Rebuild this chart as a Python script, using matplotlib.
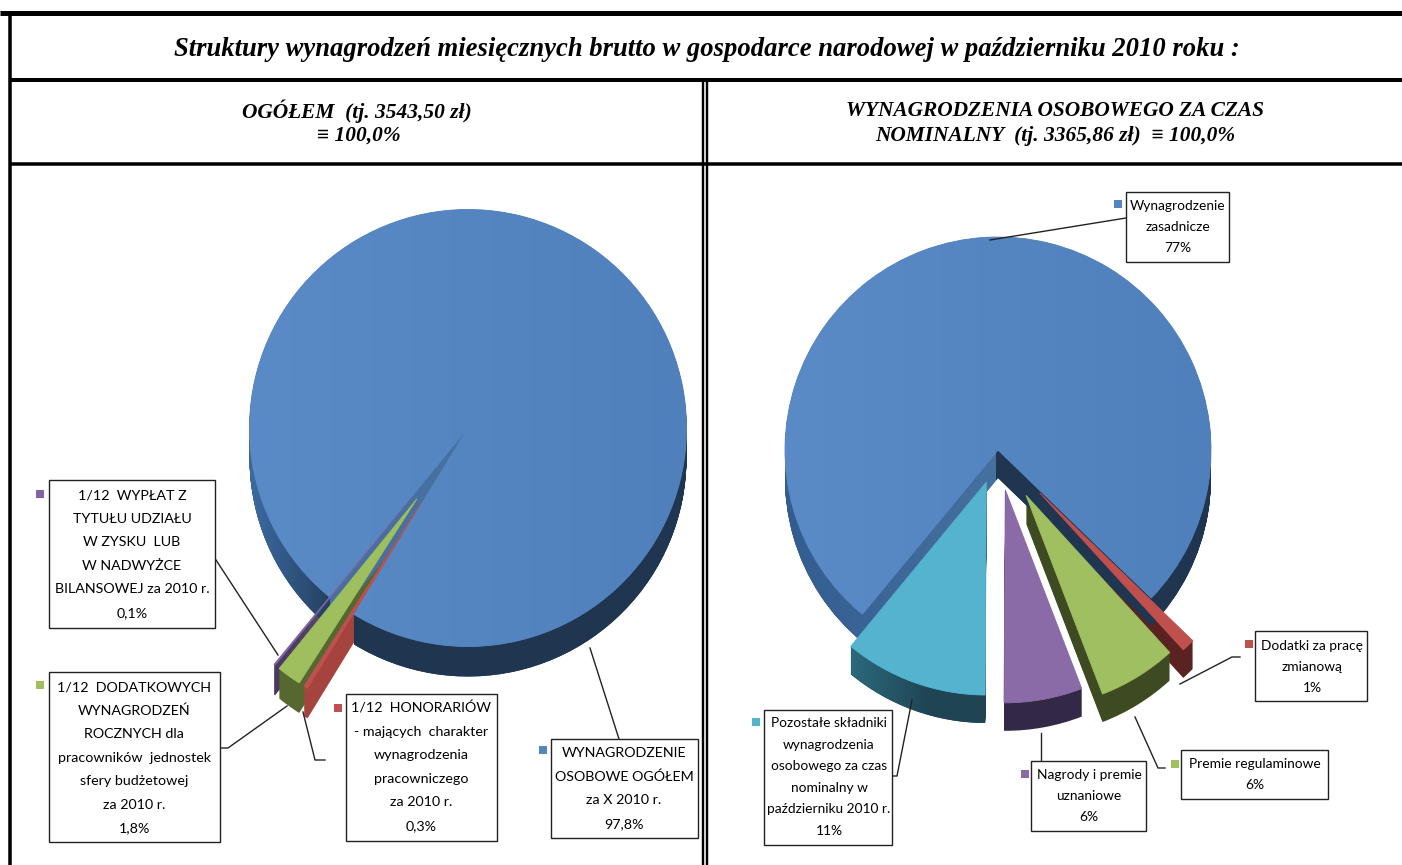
import matplotlib
matplotlib.use('Agg')
import matplotlib.pyplot as plt
import numpy as np
from matplotlib.patches import PathPatch, Rectangle
from matplotlib.path import Path
from matplotlib.colors import to_rgb

W, H = 1402, 865

# left pie data
left_names = ["WYNAGRODZENIE\nOSOBOWE OGÓŁEM\nza X 2010 r.",
              "1/12  WYPŁAT Z\nTYTUŁU UDZIAŁU\nW ZYSKU  LUB\nW NADWYŻCE\nBILANSOWEJ za 2010 r.",
              "1/12  DODATKOWYCH\nWYNAGRODZEŃ\nROCZNYCH dla\npracowników  jednostek\nsfery budżetowej\nza 2010 r.",
              "1/12  HONORARIÓW\n- mających  charakter\nwynagrodzenia\npracowniczego\nza 2010 r."]
left_values = [97.8, 0.1, 1.8, 0.3]
left_pct = ["97,8%", "0,1%", "1,8%", "0,3%"]

# right pie data
right_names = ["Wynagrodzenie\nzasadnicze",
               "Pozostałe składniki\nwynagrodzenia\nosobowego za czas\nnominalny w\npaździerniku 2010 r.",
               "Nagrody i premie\nuznaniowe",
               "Premie regulaminowe",
               "Dodatki za pracę\nzmianową"]
right_values = [77, 11, 6, 6, 1]
right_pct = ["77%", "11%", "6%", "6%", "1%"]

left_top = ['#5585c1', '#8064a2', '#9fbf5f', '#c0504d']
left_side = ['#203650', '#4b3a60', '#56682f', '#a5443f']
right_top = ['#5585c1', '#54b3cf', '#8a6ba8', '#a0bf60', '#c0504d']
right_side = ['#203650', '#1f4453', '#332845', '#3e4a22', '#5a2220']

plt.rcParams['font.family'] = ['Lato', 'DejaVu Sans']
fig = plt.figure(figsize=(W / 100, H / 100), dpi=100, facecolor='white')
ax = fig.add_axes([0, 0, 1, 1])


def Y(y):
    # picture rows count from the top, the axes from the bottom
    return H - y


def ramp(c0, c1, x0, x1):
    # colour per screen pixel, left to right, over the whole picture
    t = np.clip((np.arange(W) - x0) / (x1 - x0), 0, 1)[None, :, None]
    a, b = np.array(to_rgb(c0)), np.array(to_rgb(c1))
    return np.repeat(a + (b - a) * t, H, axis=0)


def paint(paths, img, zorder):
    im = ax.imshow(img, extent=(0, W, 0, H), origin='upper', aspect='auto', zorder=zorder)
    im.set_clip_path(PathPatch(Path.make_compound_path(*paths), transform=ax.transData))


def draw_pie(values, tops, sides, cx, cy, radius, depth, explode, start, walls=None, top_img=None):
    # pie takes explode in data units, here they are pixels
    explode = [e * radius for e in explode]
    wall_paths = {i: [] for i in (walls or {})}
    for k in range(depth, 0, -1):
        wedges, _ = ax.pie(values, colors=sides, explode=explode, radius=radius,
                           center=(cx, Y(cy) - k), startangle=start,
                           wedgeprops=dict(linewidth=0.6, edgecolor='none'))
        for i in wall_paths:
            wall_paths[i].append(wedges[i].get_path())
    for i, img in (walls or {}).items():
        paint(wall_paths[i], img, 1)
    wedges, _ = ax.pie(values, colors=tops, explode=explode, radius=radius, center=(cx, Y(cy)),
                       startangle=start, wedgeprops=dict(linewidth=0.6))
    for w, c in zip(wedges, tops):
        w.set_edgecolor(c)
        w.set_zorder(2)
    if top_img is not None:
        paint([wedges[0].get_path()], top_img, 2)


def label_box(x0, y0, x1, y1, text, color, mx, my, leader, cx=None, top=None, pitch=23.6, fs=10.3):
    ax.add_patch(Rectangle((x0, Y(y1)), x1 - x0, y1 - y0, facecolor='white', edgecolor='#222222',
                           linewidth=1, zorder=5))
    ax.add_patch(Rectangle((mx - 4, Y(my + 4)), 8, 8, facecolor=color, edgecolor='none', zorder=5))
    xs, ys = zip(*leader)
    ax.plot(xs, [Y(v) for v in ys], color='#222222', linewidth=1, zorder=4)
    cx = (x0 + x1) / 2 if cx is None else cx
    for i, line in enumerate(text.split('\n')):
        ax.text(cx, Y(top + i * pitch), line, ha='center', va='center', fontsize=fs,
                color='black', zorder=6)


# left pie: outer wall fades right, the notch wall stays a mid blue
left_wall = ramp('#3a689f', '#203650', 255, 350)
left_wall[425:612, 330:470] = to_rgb('#46709f')
draw_pie(left_values, left_top, left_side, 468, 428, 218.5, 30,
         [0, 0.40, 0.40, 0.40], 238.5, walls={0: left_wall},
         top_img=ramp('#5b8bc7', '#4f80bc', 250, 690))

# right pie: the wall left of the apex is lighter than the wall right of it
right_wall = ramp('#335d90', '#46709f', 786, 990)
right_wall[:, 996:] = to_rgb('#203650')
draw_pie(right_values, right_top, right_side, 998, 450, 213, 28,
         [0, 0.16, 0.19, 0.25, 0.28], 316, walls={0: right_wall, 1: ramp('#2b6a7c', '#1f4453', 850, 930)},
         top_img=ramp('#5b8bc7', '#4f80bc', 786, 1212))

label_box(49, 480, 215, 628, left_names[1] + '\n' + left_pct[1], left_top[1], 40, 494,
          [(216, 560), (278, 655)], top=495)
label_box(49, 672, 220, 842, left_names[2] + '\n' + left_pct[2], left_top[2], 40, 685,
          [(220, 748), (228, 748), (287, 706)], cx=134, top=687)
label_box(346, 694, 497, 841, left_names[3] + '\n' + left_pct[3], left_top[3], 338, 708,
          [(325, 760), (315, 760), (303, 712)], cx=421, top=708)
label_box(551, 739, 698, 838, left_names[0] + '\n' + left_pct[0], left_top[0], 543, 750,
          [(619, 739), (590, 648)], cx=624, top=753)

label_box(1126, 192, 1229, 262, right_names[0] + '\n' + right_pct[0], right_top[0], 1118, 204,
          [(1126, 218), (990, 240)], top=206, pitch=21, fs=9.9)
label_box(1255, 631, 1367, 701, right_names[4] + '\n' + right_pct[4], right_top[4], 1249, 644,
          [(1240, 657), (1232, 657), (1180, 684)], cx=1312, top=646, pitch=21, fs=9.9)
label_box(1181, 750, 1328, 799, right_names[3] + '\n' + right_pct[3], right_top[3], 1175, 764,
          [(1165, 768), (1158, 768), (1135, 717)], cx=1255, top=764, pitch=21, fs=9.9)
label_box(1031, 761, 1146, 831, right_names[2] + '\n' + right_pct[2], right_top[2], 1025, 774,
          [(1041, 761), (1041, 733)], cx=1089, top=775, pitch=21, fs=9.9)
label_box(764, 710, 892, 845, right_names[1] + '\n' + right_pct[1], right_top[1], 756, 722,
          [(912, 700), (897, 776), (890, 776)], cx=829, top=723, pitch=21.6, fs=9.9)

# table frame
frame = [((0, 1402), (13, 13), 5), ((10, 1402), (80, 80), 4), ((10, 1402), (164, 164), 3.5),
         ((10, 10), (11, 865), 3.5), ((703, 703), (80, 865), 2.4), ((707, 707), (80, 865), 2.4)]
for xs, ys, lw in frame:
    ax.plot(xs, [Y(ys[0]), Y(ys[1])], color='black', linewidth=lw * 0.72, solid_capstyle='butt', zorder=8)

serif = dict(family='Liberation Serif', style='italic', weight='bold', ha='center', va='center',
             color='black', zorder=9)
ax.text(707, Y(49), "Struktury wynagrodzeń miesięcznych brutto w gospodarce narodowej w październiku 2010 roku :",
        fontsize=19.2, **serif)
ax.text(357, Y(111), "OGÓŁEM  (tj. 3543,50 zł)", fontsize=15.4, **serif)
ax.text(359, Y(136), "≡ 100,0%", fontsize=15.4, **serif)
ax.text(1055, Y(111), "WYNAGRODZENIA OSOBOWEGO ZA CZAS", fontsize=15.4, **serif)
ax.text(1055, Y(136), "NOMINALNY  (tj. 3365,86 zł)  ≡ 100,0%", fontsize=15.4, **serif)

ax.set_aspect('auto')
ax.set_xlim(0, W)
ax.set_ylim(0, H)
ax.axis('off')
fig.savefig('out.png', dpi=100, facecolor='white')
